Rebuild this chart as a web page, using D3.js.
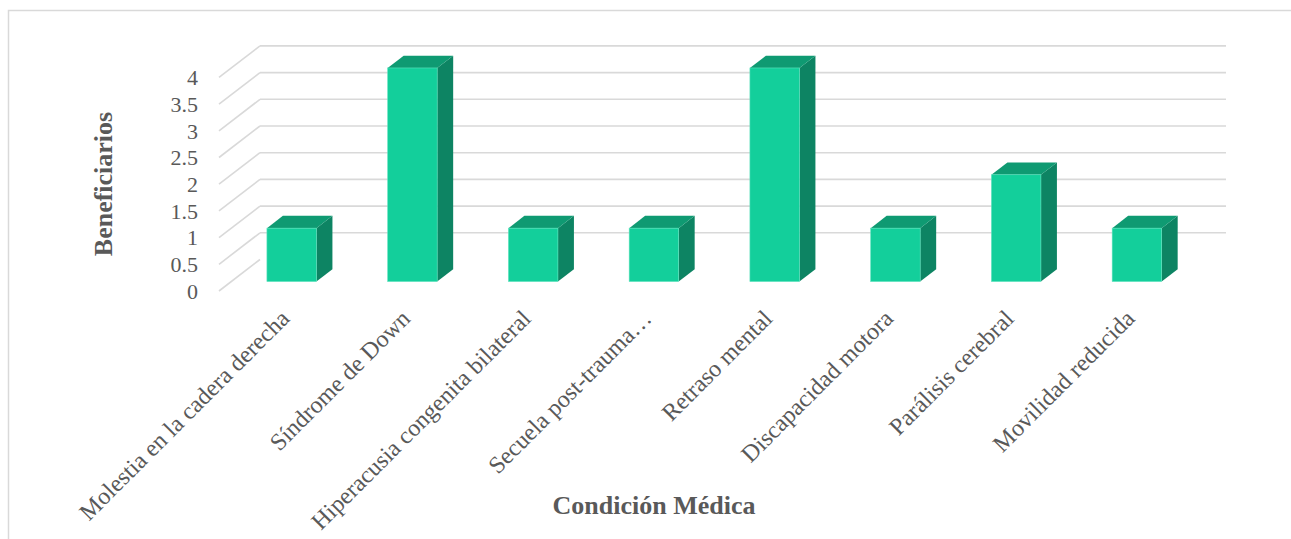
<!DOCTYPE html>
<html>
<head>
<meta charset="utf-8">
<script src="https://cdn.jsdelivr.net/npm/d3@7"></script>
<style>
  html, body { margin: 0; padding: 0; background: #ffffff; }
  svg { display: block; }
</style>
</head>
<body>
<svg id="chart" width="1291" height="539"></svg>
<script>
const categories = [
  "Molestia en la cadera derecha",
  "Síndrome de Down",
  "Hiperacusia congenita bilateral",
  "Secuela post-trauma…",
  "Retraso mental",
  "Discapacidad motora",
  "Parálisis cerebral",
  "Movilidad reducida"
];
const values = [1, 4, 1, 1, 4, 1, 2, 1];
const yTicks = [0, 0.5, 1, 1.5, 2, 2.5, 3, 3.5, 4];
const yTickLabels = ["0", "0.5", "1", "1.5", "2", "2.5", "3", "3.5", "4"];
const xTitle = "Condición Médica";
const yTitle = "Beneficiarios";

const svg = d3.select("#chart");
const font = "'Liberation Serif', 'Times New Roman', serif";

// chart area border
svg.append("rect")
  .attr("x", 8.5).attr("y", 10.5)
  .attr("width", 1300).attr("height", 540)
  .attr("fill", "none").attr("stroke", "#d9d9d9").attr("stroke-width", 1.5);

// 3D geometry
const depthX = 41, depthY = -31.5;
const frontLeft = 219, frontRight = 1185;
const f0 = 0.3, f1 = 0.69;

const x = d3.scaleBand().domain(categories)
  .range([frontLeft, frontRight])
  .paddingInner(0.59).paddingOuter(0.295);
const y = d3.scaleLinear().domain([0, 4]).range([291, 77.4]);

const grid = svg.append("g");
yTicks.forEach(t => {
  const yy = y(t);
  grid.append("line")
    .attr("x1", frontLeft).attr("y1", yy)
    .attr("x2", frontLeft + depthX).attr("y2", yy + depthY)
    .attr("stroke", "#d9d9d9").attr("stroke-width", 1.6);
  if (t > 0) {
    grid.append("line")
      .attr("x1", frontLeft + depthX).attr("y1", yy + depthY)
      .attr("x2", frontRight + depthX).attr("y2", yy + depthY)
      .attr("stroke", "#d9d9d9").attr("stroke-width", 1.6);
  }
});

// y tick labels
svg.append("g").selectAll("text").data(yTicks).join("text")
  .attr("x", 198).attr("y", d => y(d))
  .attr("dy", "0.35em")
  .attr("text-anchor", "end")
  .attr("font-family", font).attr("font-size", 22)
  .attr("fill", "#595959")
  .text((d, i) => yTickLabels[i]);

// bars
const colFront = "#13cf9b", colSide = "#0d8463", colTop = "#0f9a72";
const ddx = (f1 - f0) * depthX, ddy = (f1 - f0) * depthY;
const bars = svg.append("g");
categories.forEach((c, i) => {
  const xl = x(c) + f0 * depthX;
  const xr = xl + x.bandwidth();
  const yt = y(values[i]) + f0 * depthY;
  const yb = y(0) + f0 * depthY;
  bars.append("polygon")
    .attr("points", [[xr, yt], [xr, yb], [xr + ddx, yb + ddy], [xr + ddx, yt + ddy]].join(" "))
    .attr("fill", colSide);
  bars.append("polygon")
    .attr("points", [[xl, yt], [xr, yt], [xr + ddx, yt + ddy], [xl + ddx, yt + ddy]].join(" "))
    .attr("fill", colTop);
  bars.append("rect")
    .attr("x", xl).attr("y", yt)
    .attr("width", x.bandwidth()).attr("height", yb - yt)
    .attr("fill", colFront)
    .attr("stroke", "#5fe3be").attr("stroke-width", 0.6);
});

// x labels
svg.append("g").selectAll("text").data(categories).join("text")
  .attr("transform", d => `translate(${x(d) + x.bandwidth() / 2 + f0 * depthX - 1},320) rotate(-45)`)
  .attr("text-anchor", "end")
  .attr("font-family", font).attr("font-size", 24)
  .attr("fill", "#595959")
  .text(d => d);

// axis titles
svg.append("text")
  .attr("x", 654).attr("y", 514)
  .attr("text-anchor", "middle")
  .attr("font-family", font).attr("font-size", 26).attr("font-weight", "bold")
  .attr("fill", "#595959")
  .text(xTitle);

svg.append("text")
  .attr("transform", "translate(112,184) rotate(-90)")
  .attr("text-anchor", "middle")
  .attr("font-family", font).attr("font-size", 26).attr("font-weight", "bold")
  .attr("fill", "#595959")
  .text(yTitle);
</script>
</body>
</html>
